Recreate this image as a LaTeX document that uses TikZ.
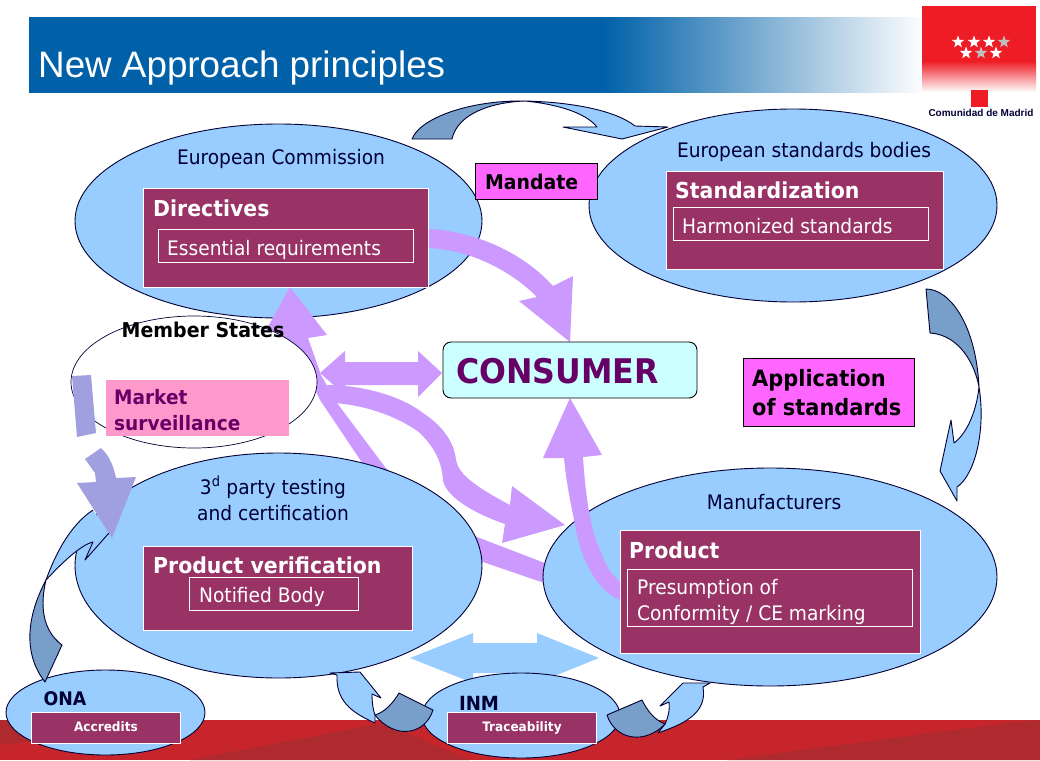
\documentclass[tikz,border=0pt]{standalone}
\usepackage{fontspec}
\usetikzlibrary{shapes.geometric}
\setmainfont{DejaVu Sans}[FakeStretch=0.93]
\newfontfamily\arialf{Liberation Sans}
\definecolor{skyb}{HTML}{99CCFF}
\definecolor{steelb}{HTML}{789FC9}
\definecolor{plum}{HTML}{993366}
\definecolor{lilac}{HTML}{CC99FF}
\definecolor{peri}{HTML}{A0A0E0}
\definecolor{navyk}{HTML}{000033}
\definecolor{grape}{HTML}{660066}
\definecolor{banner}{HTML}{0060A8}
\definecolor{bandr}{HTML}{C6262B}
\definecolor{bandd}{HTML}{AE2A2E}
\definecolor{fuchs}{HTML}{FF66FF}
\definecolor{rosey}{HTML}{FF99CC}
\definecolor{icey}{HTML}{CCFFFF}
\definecolor{logored}{HTML}{EE1C25}
\pgfdeclarehorizontalshading{bannershade}{100bp}{color(0bp)=(banner);color(57bp)=(banner);color(75bp)=(white);color(100bp)=(white)}
\newcommand\fs[2]{\fontsize{#1}{#2}\selectfont}
\tikzset{
  oval/.style={ellipse,draw=navyk,line width=0.9pt,fill=skyb,inner sep=0pt},
  panel/.style={rectangle,draw=white,line width=0.9pt,fill=plum,inner sep=0pt,anchor=north west},
  intext/.style={anchor=west,inner sep=0pt,align=left,text=white,font=\fs{20}{26}},
  head/.style={anchor=west,inner sep=0pt,text=white,font=\fs{22}{26}\bfseries},
  plain/.style={align=center,inner sep=0pt,text=navyk,font=\fs{20}{26}},
  tag/.style={rectangle,draw=black,line width=0.9pt,fill=fuchs,inner sep=0pt,anchor=north west},
  tagtext/.style={anchor=west,inner sep=0pt,align=left,text=black,font=\bfseries},
  curvelight/.style={fill=skyb,draw=navyk,line width=0.9pt,line join=round},
  curvedark/.style={fill=steelb,draw=navyk,line width=0.9pt,line join=round},
  wing/.style={fill=lilac,draw=none},
  mini/.style={panel,text=white,align=center,font=\fs{13}{15}\bfseries},
  starry/.style={star,star points=5,star point ratio=2.4,fill=#1,inner sep=0pt,minimum size=13pt},
}
\begin{document}
\begin{tikzpicture}[x=1pt,y=-1pt]
\useasboundingbox (0,0) rectangle (1040,760);
% bottom band
\fill[bandr] (0,720) rectangle (1040,760);
\fill[bandd] (0,720) -- (200,720) -- (0,745) -- cycle;
\fill[bandd] (190,760) -- (383,723) -- (470,760) -- cycle;
\fill[bandd] (727,760) -- (1007,723) -- (1040,720) -- (1040,760) -- cycle;
% title banner
\path[shading=bannershade] (29,17.5) rectangle (925,92.5);
\node[anchor=west,inner sep=0pt,text=white,font=\arialf\fs{36.8}{40}] (title) at (38,68) {New Approach principles};
% logo
\fill[logored] (922,6) rectangle (1036,62);
\shade[top color=logored,bottom color=white] (922,61) rectangle (1036,92);
\foreach \i/\sx/\sy/\c in {a/958/42/white,b/974/42/white,c/989/42/white,d/1004/42/lightgray,e/966/53/white,f/981/53/lightgray,g/996/53/white}
  \node[starry=\c] (star\i) at (\sx,\sy) {};
\node[rectangle,fill=logored,minimum size=17pt,inner sep=0pt] (logosq) at (979,98) {};
\node[inner sep=0pt,text=navyk,font=\arialf\fs{10}{11}\bfseries] (logotxt) at (981,113) {Comunidad de Madrid};
% ovals and arrows, back to front
\node[oval,minimum width=407pt,minimum height=194pt] (ec) at (278.5,221) {};
\node[oval,minimum width=408pt,minimum height=193pt] (esb) at (793,205.5) {};
\fill[wing] (290,287) -- (327,335) -- (308,338) -- (321,375) -- (337,403) -- (385,467) -- (420,500)
  -- (477,537) -- (550,565) -- (550,585) -- (483,562) -- (420,520) -- (365,467) -- (320,400) -- (295,345) -- (255,350) -- cycle;
\node[oval,fill=white,line width=0.7pt,minimum width=246pt,minimum height=132pt] (ms) at (194,382) {};
\node[oval,minimum width=407pt,minimum height=225pt] (party) at (278.5,565.5) {};
\node[oval,minimum width=454pt,minimum height=218pt] (mfr) at (770,577) {};
% bottom double arrow
\fill[skyb] (410,658) -- (473,633) -- (473,643) -- (537,643) -- (537,633) -- (599,658) -- (537,683) -- (537,673) -- (473,673) -- (473,683) -- cycle;
\node[oval,minimum width=199pt,minimum height=85pt] (ona) at (105.5,712.5) {};
\node[oval,minimum width=198pt,minimum height=85pt] (inm) at (521,715.5) {};
% lilac arrows
\fill[wing] (429,229) .. controls (480,232) and (525,255) .. (553,286) -- (573,276) -- (570,342) -- (519,301) -- (537,297) .. controls (510,270) and (470,250) .. (429,248) -- cycle;
\fill[wing] (320,373) -- (345,351) -- (345,362) -- (418,362) -- (418,351) -- (442,373) -- (418,397) -- (418,385) -- (345,385) -- (345,395) -- cycle;
\fill[wing] (327,385) .. controls (360,385) and (400,395) .. (423,413) .. controls (440,424) and (454,440) .. (456,460) .. controls (458,472) and (470,484) .. (510,505)
  -- (512,486) -- (565,525) -- (502,543) -- (505,524) .. controls (470,512) and (445,495) .. (443,480) .. controls (442,465) and (437,450) .. (420,433) .. controls (400,418) and (370,406) .. (335,403) -- cycle;
\fill[wing] (620,600) .. controls (595,590) and (580,555) .. (575,525) .. controls (570,500) and (566,480) .. (564,458) -- (543,458) -- (570,398) -- (602,455) -- (583,457) .. controls (585,490) and (590,530) .. (600,550) .. controls (605,565) and (612,575) .. (620,582) -- cycle;
% steel curved arrows
\path[curvedark] (412,139) .. controls (420,118) and (470,100) .. (525,101) .. controls (495,102) and (458,112) .. (452,139) -- cycle;
\path[curvelight] (525,101) .. controls (570,102) and (615,110) .. (635,126) -- (668,127) -- (622,139) -- (563,127) -- (597,127) .. controls (585,112) and (555,104) .. (525,101) -- cycle;
\path[curvedark] (926,289) .. controls (950,289) and (976,325) .. (979,387) .. controls (975,365) and (960,335) .. (930,333) -- cycle;
\path[curvelight] (979,387) .. controls (986,430) and (975,475) .. (957,487) -- (957,501) -- (940,471) -- (951,420) -- (954,443) .. controls (965,435) and (976,415) .. (979,387) -- cycle;
\fill[skyb] (46,580) .. controls (55,555) and (70,525) .. (93,510) -- (109,533) -- (85,560) -- (93,542) .. controls (80,545) and (60,565) .. (46,580) -- cycle;
\draw[navyk,line width=0.9pt,line join=round] (46,580) .. controls (55,555) and (70,525) .. (93,510);
\draw[navyk,line width=0.9pt,line join=round] (109,533) -- (85,560) -- (93,542) .. controls (80,545) and (60,565) .. (46,580);
\path[curvedark] (46,580) .. controls (30,610) and (20,650) .. (45,682) -- (62,645) .. controls (42,630) and (40,605) .. (46,580) -- cycle;
\path[curvelight] (330,673) -- (360,672) -- (381,698) -- (372,694) .. controls (372,702) and (373,710) .. (375,715) -- (375,723) .. controls (350,712) and (336,700) .. (337,675) -- cycle;
\path[curvedark] (375,715) .. controls (385,712) and (393,703) .. (399,693) -- (433,710) .. controls (425,735) and (395,740) .. (375,715) -- cycle;
\path[curvelight] (710,683) -- (683,683) -- (660,706) -- (669,702) .. controls (670,710) and (668,718) .. (665,724) -- (658,733) .. controls (680,725) and (708,715) .. (703,687) -- cycle;
\path[curvedark] (665,724) .. controls (655,720) and (648,712) .. (642,700) -- (607,715) .. controls (615,740) and (645,745) .. (665,724) -- cycle;
% panels
\node[panel,minimum width=285pt,minimum height=99pt] (dir) at (143,188) {};
\node[panel,minimum width=255pt,minimum height=33pt] (ess) at (158,229) {};
\node[intext] (esst) at (167,250) {Essential requirements};
\node[head] (dirt) at (153,208) {Directives};
\node[panel,minimum width=277pt,minimum height=98pt] (std) at (666,171) {};
\node[panel,minimum width=255pt,minimum height=33pt] (hs) at (673,207) {};
\node[intext] (hst) at (682,226.5) {Harmonized standards};
\node[head] (stdt) at (675,190) {Standardization};
\node[panel,minimum width=269pt,minimum height=84pt] (pv) at (143,546) {};
\node[panel,minimum width=169pt,minimum height=33pt] (nb) at (189,577) {};
\node[intext] (nbt) at (199,597) {Notified Body};
\node[head] (pvt) at (153,565) {Product verification};
\node[panel,minimum width=300pt,minimum height=123pt] (prod) at (620,530) {};
\node[panel,minimum width=285pt,minimum height=57pt] (pc) at (627,569) {};
\node[intext] (pct) at (637,602) {Presumption of\\Conformity / CE marking};
\node[head] (prodt) at (629,550) {Product};
\node[mini,minimum width=149pt,minimum height=31pt] (acc) at (31,712) {\raisebox{2pt}{Accredits}};
\node[mini,minimum width=149pt,minimum height=31pt] (tra) at (447,712) {\raisebox{0pt}{Traceability}};
% labels
\node[plain] (ecl) at (281,159) {European Commission};
\node[plain] (esbl) at (804,152) {European standards bodies};
\node[plain] (partyl) at (273,498.5) {3\textsuperscript{d} party testing\\and certification};
\node[plain] (mfrl) at (774,502) {Manufacturers};
\node[inner sep=0pt,text=black,font=\fs{20.4}{26}\bfseries] (msl) at (203,330) {Member States};
\node[inner sep=0pt,text=navyk,font=\fs{18.7}{22}\bfseries] (onal) at (65,699) {ONA};
\node[inner sep=0pt,text=navyk,font=\fs{19.5}{22}\bfseries] (inml) at (479,703) {INM};
% tags
\node[tag,minimum width=122pt,minimum height=36pt] (mand) at (475,163) {};
\node[tagtext,font=\fs{20.3}{26}\bfseries] (mandt) at (485,182) {Mandate};
\node[tag,minimum width=171pt,minimum height=68pt] (app) at (743,358) {};
\node[tagtext,font=\fs{22.5}{29}\bfseries] (appt) at (752,393) {Application\\of standards};
\node[rectangle,draw=black,line width=0.9pt,rounded corners=8pt,fill=icey,minimum width=254pt,minimum height=56pt,inner sep=0pt] (cons) at (570,370) {};
\node[anchor=west,inner sep=0pt,text=grape,font=\fs{34}{40}\bfseries] (const) at (456,371) {CONSUMER};
\node[rectangle,fill=rosey,minimum width=183pt,minimum height=56pt,inner sep=0pt,anchor=north west] (ms2) at (106,380) {};
\node[anchor=west,inner sep=0pt,align=left,text=grape,font=\fs{19.9}{26}\bfseries] (mst) at (114,410) {Market\\surveillance};
% periwinkle
\fill[peri] (72,376) -- (91,375) -- (96,433) -- (77,437) -- cycle;
\fill[peri] (101,448) -- (85,459) -- (95,473) -- (96,482) -- (77,483) -- (112,538) -- (136,477) -- (116,478) .. controls (114,468) and (110,456) .. (101,448) -- cycle;
\end{tikzpicture}
\end{document}
